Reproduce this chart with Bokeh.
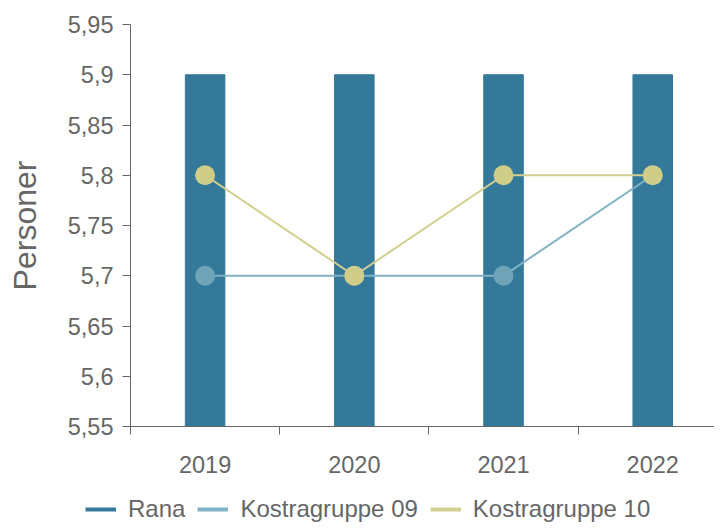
from bokeh.plotting import figure
from bokeh.layouts import column
from bokeh.models import (FixedTicker, CustomJSTickFormatter, Legend, LegendItem,
                          Range1d)
from bokeh.embed import file_html
from bokeh.resources import INLINE

# ---- data ----
years = ["2019", "2020", "2021", "2022"]
rana = [5.9, 5.9, 5.9, 5.9]
kostra09 = [5.7, 5.7, 5.7, 5.8]
kostra10 = [5.8, 5.7, 5.8, 5.8]
y_ticks = [5.55, 5.6, 5.65, 5.7, 5.75, 5.8, 5.85, 5.9, 5.95]
y_title = "Personer"
series_names = ["Rana", "Kostragruppe 09", "Kostragruppe 10"]

# ---- styles ----
C_RANA = "#35799a"
C_09_LINE = "#80b2c6"
C_09_MARK = "#6fa4b8"
C_10_LINE = "#d2d08e"
C_10_MARK = "#cfcd88"
FONT = "Liberation Sans"
TXT = "#666666"
AX = "#666666"

x = list(range(len(years)))
y_min, y_max = y_ticks[0], y_ticks[-1]

p = figure(width=714, height=483, output_backend="svg", toolbar_location=None,
           x_range=Range1d(-0.5, 3.414), y_range=Range1d(y_min, y_max),
           min_border_left=130, min_border_right=0, min_border_top=24,
           min_border_bottom=57)
p.outline_line_color = None
p.xgrid.visible = False
p.ygrid.visible = False

# bars
p.vbar(x=x, top=rana, bottom=y_min, width=0.265, fill_color=C_RANA,
       line_color=C_RANA, line_width=1)

# lines + markers
p.line(x, kostra09, line_color=C_09_LINE, line_width=2)
p.scatter(x, kostra09, size=20, fill_color=C_09_MARK, line_color=None)
p.line(x, kostra10, line_color=C_10_LINE, line_width=2)
p.scatter(x, kostra10, size=20, fill_color=C_10_MARK, line_color=None)

# x axis
xa = p.xaxis[0]
xa.ticker = FixedTicker(ticks=x, minor_ticks=[i - 0.5 for i in x])
xa.formatter = CustomJSTickFormatter(args=dict(labels=years),
                                     code="const i = Math.round(tick); return labels[i] ?? '';")
xa.major_tick_line_color = None
xa.major_tick_out = 0
xa.major_tick_in = 0
xa.minor_tick_line_color = AX
xa.minor_tick_out = 8
xa.minor_tick_in = 0
xa.axis_line_color = AX
xa.major_label_standoff = 21
xa.major_label_text_font = FONT
xa.major_label_text_font_size = "23.5px"
xa.major_label_text_color = TXT

# y axis
ya = p.yaxis[0]
ya.ticker = FixedTicker(ticks=y_ticks)
ya.formatter = CustomJSTickFormatter(
    code="return (Math.round(tick * 100) / 100).toString().replace('.', ',');")
ya.minor_tick_line_color = None
ya.major_tick_out = 8
ya.major_tick_in = 0
ya.major_tick_line_color = AX
ya.axis_line_color = AX
ya.major_label_standoff = 9
ya.major_label_text_font = FONT
ya.major_label_text_font_size = "23.5px"
ya.major_label_text_color = TXT
ya.axis_label = y_title
ya.axis_label_text_font = FONT
ya.axis_label_text_font_size = "32px"
ya.axis_label_text_font_style = "normal"
ya.axis_label_text_color = TXT
ya.axis_label_standoff = 22

# ---- legend strip (separate figure, hidden proxy renderers from same data) ----
pl = figure(width=714, height=40, output_backend="svg", toolbar_location=None,
            x_axis_type=None, y_axis_type=None,
            x_range=Range1d(-0.5, 3.414), y_range=Range1d(y_min, y_max),
            min_border_left=0, min_border_right=0, min_border_top=0,
            min_border_bottom=0)
pl.frame_align = False
pl.outline_line_color = None
pl.xgrid.visible = False
pl.ygrid.visible = False
r1 = pl.line(x, rana, line_color=C_RANA, line_width=4, visible=False)
r2 = pl.line(x, kostra09, line_color=C_09_LINE, line_width=4, visible=False)
r3 = pl.line(x, kostra10, line_color=C_10_LINE, line_width=4, visible=False)
legend = Legend(items=[LegendItem(label=series_names[0], renderers=[r1]),
                       LegendItem(label=series_names[1], renderers=[r2]),
                       LegendItem(label=series_names[2], renderers=[r3])],
                orientation="horizontal", location=(85, 0),
                glyph_width=31, glyph_height=20, label_standoff=12, spacing=12,
                padding=0, margin=0, border_line_color=None,
                background_fill_alpha=0,
                label_text_font=FONT, label_text_font_size="24px",
                label_text_color=TXT)
pl.add_layout(legend, "center")

layout = column(p, pl, spacing=0)
open("out.html", "w").write(file_html(layout, INLINE))
